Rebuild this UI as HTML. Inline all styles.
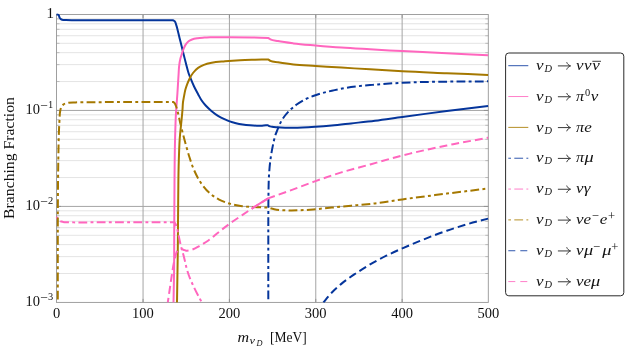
<!DOCTYPE html>
<html><head><meta charset="utf-8"><title>Branching fractions</title>
<style>html,body{margin:0;padding:0;background:#fff;}body{width:625px;height:349px;overflow:hidden;font-family:"Liberation Serif",serif;}svg{display:block;}text{font-family:"Liberation Serif",serif;fill:#111;}</style>
</head><body>
<svg width="625" height="349" viewBox="0 0 625 349" style="will-change:transform">
<rect x="0" y="0" width="625" height="349" fill="#ffffff"/>
<g stroke="#dfdfdf" stroke-width="0.85" fill="none"><line x1="56.50" y1="81.54" x2="488.30" y2="81.54"/><line x1="56.50" y1="64.64" x2="488.30" y2="64.64"/><line x1="56.50" y1="52.65" x2="488.30" y2="52.65"/><line x1="56.50" y1="43.34" x2="488.30" y2="43.34"/><line x1="56.50" y1="35.74" x2="488.30" y2="35.74"/><line x1="56.50" y1="29.32" x2="488.30" y2="29.32"/><line x1="56.50" y1="23.75" x2="488.30" y2="23.75"/><line x1="56.50" y1="18.84" x2="488.30" y2="18.84"/><line x1="56.50" y1="177.52" x2="488.30" y2="177.52"/><line x1="56.50" y1="160.62" x2="488.30" y2="160.62"/><line x1="56.50" y1="148.63" x2="488.30" y2="148.63"/><line x1="56.50" y1="139.33" x2="488.30" y2="139.33"/><line x1="56.50" y1="131.73" x2="488.30" y2="131.73"/><line x1="56.50" y1="125.30" x2="488.30" y2="125.30"/><line x1="56.50" y1="119.74" x2="488.30" y2="119.74"/><line x1="56.50" y1="114.83" x2="488.30" y2="114.83"/><line x1="56.50" y1="273.51" x2="488.30" y2="273.51"/><line x1="56.50" y1="256.60" x2="488.30" y2="256.60"/><line x1="56.50" y1="244.61" x2="488.30" y2="244.61"/><line x1="56.50" y1="235.31" x2="488.30" y2="235.31"/><line x1="56.50" y1="227.71" x2="488.30" y2="227.71"/><line x1="56.50" y1="221.28" x2="488.30" y2="221.28"/><line x1="56.50" y1="215.72" x2="488.30" y2="215.72"/><line x1="56.50" y1="210.81" x2="488.30" y2="210.81"/></g>
<g stroke="#b4b4b4" stroke-width="0.85" fill="none"><line x1="56.50" y1="81.54" x2="59.50" y2="81.54"/><line x1="485.30" y1="81.54" x2="488.30" y2="81.54"/><line x1="56.50" y1="64.64" x2="59.50" y2="64.64"/><line x1="485.30" y1="64.64" x2="488.30" y2="64.64"/><line x1="56.50" y1="52.65" x2="59.50" y2="52.65"/><line x1="485.30" y1="52.65" x2="488.30" y2="52.65"/><line x1="56.50" y1="43.34" x2="59.50" y2="43.34"/><line x1="485.30" y1="43.34" x2="488.30" y2="43.34"/><line x1="56.50" y1="35.74" x2="59.50" y2="35.74"/><line x1="485.30" y1="35.74" x2="488.30" y2="35.74"/><line x1="56.50" y1="29.32" x2="59.50" y2="29.32"/><line x1="485.30" y1="29.32" x2="488.30" y2="29.32"/><line x1="56.50" y1="23.75" x2="59.50" y2="23.75"/><line x1="485.30" y1="23.75" x2="488.30" y2="23.75"/><line x1="56.50" y1="18.84" x2="59.50" y2="18.84"/><line x1="485.30" y1="18.84" x2="488.30" y2="18.84"/><line x1="56.50" y1="177.52" x2="59.50" y2="177.52"/><line x1="485.30" y1="177.52" x2="488.30" y2="177.52"/><line x1="56.50" y1="160.62" x2="59.50" y2="160.62"/><line x1="485.30" y1="160.62" x2="488.30" y2="160.62"/><line x1="56.50" y1="148.63" x2="59.50" y2="148.63"/><line x1="485.30" y1="148.63" x2="488.30" y2="148.63"/><line x1="56.50" y1="139.33" x2="59.50" y2="139.33"/><line x1="485.30" y1="139.33" x2="488.30" y2="139.33"/><line x1="56.50" y1="131.73" x2="59.50" y2="131.73"/><line x1="485.30" y1="131.73" x2="488.30" y2="131.73"/><line x1="56.50" y1="125.30" x2="59.50" y2="125.30"/><line x1="485.30" y1="125.30" x2="488.30" y2="125.30"/><line x1="56.50" y1="119.74" x2="59.50" y2="119.74"/><line x1="485.30" y1="119.74" x2="488.30" y2="119.74"/><line x1="56.50" y1="114.83" x2="59.50" y2="114.83"/><line x1="485.30" y1="114.83" x2="488.30" y2="114.83"/><line x1="56.50" y1="273.51" x2="59.50" y2="273.51"/><line x1="485.30" y1="273.51" x2="488.30" y2="273.51"/><line x1="56.50" y1="256.60" x2="59.50" y2="256.60"/><line x1="485.30" y1="256.60" x2="488.30" y2="256.60"/><line x1="56.50" y1="244.61" x2="59.50" y2="244.61"/><line x1="485.30" y1="244.61" x2="488.30" y2="244.61"/><line x1="56.50" y1="235.31" x2="59.50" y2="235.31"/><line x1="485.30" y1="235.31" x2="488.30" y2="235.31"/><line x1="56.50" y1="227.71" x2="59.50" y2="227.71"/><line x1="485.30" y1="227.71" x2="488.30" y2="227.71"/><line x1="56.50" y1="221.28" x2="59.50" y2="221.28"/><line x1="485.30" y1="221.28" x2="488.30" y2="221.28"/><line x1="56.50" y1="215.72" x2="59.50" y2="215.72"/><line x1="485.30" y1="215.72" x2="488.30" y2="215.72"/><line x1="56.50" y1="210.81" x2="59.50" y2="210.81"/><line x1="485.30" y1="210.81" x2="488.30" y2="210.81"/></g>
<g stroke="#a4a4a4" stroke-width="1" fill="none"><line x1="56.50" y1="110.43" x2="488.30" y2="110.43"/><line x1="56.50" y1="206.42" x2="488.30" y2="206.42"/><line x1="143.06" y1="14.45" x2="143.06" y2="302.40"/><line x1="229.42" y1="14.45" x2="229.42" y2="302.40"/><line x1="315.78" y1="14.45" x2="315.78" y2="302.40"/><line x1="402.14" y1="14.45" x2="402.14" y2="302.40"/></g>
<g stroke="#8f8f8f" stroke-width="0.9" fill="none"><line x1="56.50" y1="110.43" x2="61.00" y2="110.43"/><line x1="483.80" y1="110.43" x2="488.30" y2="110.43"/><line x1="56.50" y1="206.42" x2="61.00" y2="206.42"/><line x1="483.80" y1="206.42" x2="488.30" y2="206.42"/><line x1="143.06" y1="298.90" x2="143.06" y2="302.40"/><line x1="143.06" y1="14.45" x2="143.06" y2="17.95"/><line x1="229.42" y1="298.90" x2="229.42" y2="302.40"/><line x1="229.42" y1="14.45" x2="229.42" y2="17.95"/><line x1="315.78" y1="298.90" x2="315.78" y2="302.40"/><line x1="315.78" y1="14.45" x2="315.78" y2="17.95"/><line x1="402.14" y1="298.90" x2="402.14" y2="302.40"/><line x1="402.14" y1="14.45" x2="402.14" y2="17.95"/></g>
<rect x="56.50" y="14.45" width="431.80" height="287.95" fill="none" stroke="#969696" stroke-width="0.9"/>
<clipPath id="pc"><rect x="55.70" y="13.25" width="433.40" height="289.55"/></clipPath>
<g clip-path="url(#pc)" fill="none" stroke-width="2.0" stroke-linejoin="round">
<path d="M56.50,14.60C57.10,14.63 57.81,14.35 58.30,14.70C58.66,14.95 58.80,15.41 59.00,15.80C59.28,16.36 59.31,17.04 59.60,17.60C59.82,18.03 60.05,18.47 60.40,18.80C60.71,19.10 61.11,19.32 61.50,19.50C62.12,19.79 62.82,19.85 63.50,19.95C64.33,20.07 65.17,20.06 66.00,20.10C69.00,20.25 72.00,20.18 75.00,20.20C80.00,20.24 85.00,20.24 90.00,20.25C103.33,20.29 116.67,20.29 130.00,20.30C144.40,20.31 158.80,20.30 173.20,20.30C173.70,20.60 174.27,20.81 174.70,21.20C175.69,22.09 175.76,23.64 176.20,24.90C176.78,26.57 177.15,28.29 177.60,30.00C178.31,32.72 178.92,35.47 179.60,38.20C180.29,40.97 181.01,43.73 181.70,46.50C182.27,48.80 182.83,51.10 183.40,53.40C184.22,56.70 185.04,60.01 185.90,63.30C186.77,66.61 187.49,69.96 188.60,73.20C189.26,75.13 190.03,77.01 190.80,78.90C191.87,81.53 192.98,84.14 194.20,86.70C195.41,89.24 196.76,91.72 198.10,94.20C199.21,96.25 200.20,98.37 201.50,100.30C202.81,102.25 204.31,104.07 205.90,105.80C207.69,107.74 209.67,109.51 211.70,111.20C213.59,112.77 215.52,114.29 217.60,115.60C219.95,117.08 222.48,118.24 225.00,119.40C226.55,120.11 228.10,120.82 229.70,121.40C231.75,122.14 233.88,122.69 236.00,123.20C238.18,123.73 240.39,124.15 242.60,124.50C245.05,124.89 247.53,125.15 250.00,125.35C252.26,125.53 254.53,125.66 256.80,125.70C258.53,125.73 260.27,125.72 262.00,125.65C263.97,125.57 265.93,125.35 267.90,125.20C268.33,125.50 268.73,125.86 269.20,126.10C270.05,126.54 271.06,126.57 272.00,126.75C273.78,127.08 275.60,127.15 277.40,127.30C279.93,127.51 282.46,127.62 285.00,127.70C287.80,127.79 290.60,127.81 293.40,127.80C300.77,127.77 308.14,127.28 315.50,126.80C320.94,126.45 326.37,126.01 331.80,125.50C338.21,124.90 344.60,124.11 351.00,123.40C359.00,122.51 367.01,121.70 375.00,120.70C384.12,119.56 393.20,118.14 402.30,116.90C417.12,114.89 431.96,112.96 446.80,111.10C460.56,109.37 474.33,107.77 488.10,106.10" stroke="#05359b"/>
<path d="M173.50,302.40C173.70,291.60 173.99,280.80 174.10,270.00C174.21,260.00 174.16,250.00 174.20,240.00C174.25,226.33 174.29,212.67 174.40,199.00C174.57,177.33 174.54,155.66 175.20,134.00C175.40,127.53 175.53,121.06 175.90,114.60C176.12,110.73 176.42,106.87 176.70,103.00C176.93,99.83 177.19,96.67 177.40,93.50C177.62,90.23 177.80,86.97 178.00,83.70C178.20,80.47 178.39,77.23 178.60,74.00C178.76,71.47 178.81,68.92 179.10,66.40C179.40,63.78 179.76,61.16 180.40,58.60C180.84,56.84 181.43,55.12 182.00,53.40C182.53,51.79 183.03,50.16 183.70,48.60C184.32,47.16 184.91,45.69 185.80,44.40C186.59,43.26 187.50,42.15 188.60,41.30C189.62,40.52 190.81,39.98 192.00,39.50C193.75,38.79 195.64,38.51 197.50,38.20C199.78,37.82 202.10,37.76 204.40,37.60C206.26,37.47 208.13,37.38 210.00,37.30C215.00,37.09 220.00,37.17 225.00,37.15C233.93,37.12 242.87,37.20 251.80,37.40C257.23,37.52 262.67,37.73 268.10,37.90C268.87,38.40 269.59,38.97 270.40,39.40C272.70,40.61 275.45,40.59 278.00,41.10C283.09,42.11 288.25,42.75 293.40,43.40C300.74,44.33 308.13,44.85 315.50,45.50C324.13,46.26 332.76,46.99 341.40,47.60C350.93,48.27 360.47,48.75 370.00,49.30C380.77,49.92 391.53,50.54 402.30,51.10C417.13,51.87 431.97,52.47 446.80,53.20C460.57,53.88 474.33,54.60 488.10,55.30" stroke="#ff66be"/>
<path d="M177.00,302.40C177.17,291.60 177.34,280.80 177.50,270.00C177.60,263.33 177.71,256.67 177.80,250.00C178.02,233.00 177.99,216.00 178.20,199.00C178.36,186.27 178.35,173.53 178.80,160.80C179.11,151.86 179.25,142.90 180.10,134.00C180.25,132.40 180.43,130.80 180.60,129.20C180.94,125.97 181.28,122.74 181.60,119.50C181.92,116.24 182.25,112.97 182.50,109.70C182.69,107.20 182.69,104.69 183.00,102.20C183.24,100.25 183.64,98.33 184.00,96.40C184.43,94.13 184.79,91.83 185.40,89.60C185.95,87.60 186.65,85.64 187.40,83.70C188.12,81.84 188.87,79.97 189.80,78.20C190.74,76.40 191.75,74.61 193.00,73.00C194.47,71.10 196.15,69.30 198.10,67.90C199.87,66.63 201.88,65.71 203.90,64.90C206.40,63.90 209.06,63.35 211.70,62.80C216.07,61.89 220.56,61.72 225.00,61.30C229.99,60.83 234.99,60.47 240.00,60.20C245.00,59.93 250.00,59.84 255.00,59.70C259.37,59.58 263.73,59.50 268.10,59.40C268.87,59.90 269.58,60.48 270.40,60.90C272.69,62.07 275.46,61.79 278.00,62.20C283.12,63.03 288.25,63.82 293.40,64.40C300.74,65.22 308.13,65.41 315.50,65.90C324.13,66.48 332.77,67.06 341.40,67.60C350.93,68.20 360.47,68.72 370.00,69.30C380.77,69.95 391.53,70.72 402.30,71.30C417.13,72.10 431.97,72.58 446.80,73.20C460.57,73.78 474.33,74.33 488.10,74.90" stroke="#a57800"/>
<path d="M268.30,302.40C268.30,284.93 268.28,267.47 268.30,250.00C268.32,234.00 268.25,218.00 268.40,202.00C268.43,198.87 268.45,195.73 268.50,192.60C268.60,186.83 268.64,181.06 269.00,175.30C269.32,170.19 269.73,165.08 270.40,160.00C270.91,156.12 271.56,152.25 272.30,148.40C272.76,145.99 273.25,143.59 273.80,141.20C274.24,139.29 274.60,137.36 275.20,135.50C275.73,133.86 276.44,132.29 277.10,130.70C278.58,127.12 279.88,123.41 281.90,120.10C283.79,117.00 286.09,114.13 288.60,111.50C290.95,109.04 293.56,106.81 296.30,104.80C299.31,102.59 302.54,100.65 305.90,99.00C308.99,97.48 312.25,96.34 315.50,95.20C320.82,93.34 326.31,91.99 331.80,90.70C338.14,89.21 344.56,88.04 351.00,87.10C357.30,86.18 363.66,85.69 370.00,85.10C380.75,84.10 391.52,83.32 402.30,82.75C417.12,81.97 431.96,81.88 446.80,81.65C460.57,81.43 474.33,81.45 488.10,81.35" stroke="#05359b" stroke-dasharray="8.8 3.3 2.9 3.3" stroke-dashoffset="15.2"/>
<path d="M56.50,216.70C57.00,217.57 57.35,218.54 58.00,219.30C58.62,220.02 59.36,220.66 60.20,221.10C61.06,221.55 62.05,221.71 63.00,221.90C64.80,222.27 66.67,222.11 68.50,222.20C78.99,222.69 89.50,222.28 100.00,222.30C124.77,222.36 149.53,222.30 174.30,222.30C174.60,222.67 174.93,223.01 175.20,223.40C175.88,224.38 176.20,225.57 176.60,226.70C177.26,228.58 177.56,230.56 178.00,232.50C178.54,234.86 178.99,237.24 179.50,239.60C179.96,241.70 180.37,243.81 180.90,245.90C181.49,248.25 182.27,250.56 182.90,252.90C183.57,255.39 184.19,257.89 184.80,260.40C185.50,263.26 186.00,266.17 186.80,269.00C187.75,272.33 188.92,275.59 190.20,278.80C191.38,281.75 192.74,284.63 194.10,287.50C195.35,290.13 196.65,292.73 198.00,295.30C199.26,297.69 200.60,300.03 201.90,302.40" stroke="#ff66be" stroke-dasharray="8.8 3.3 2.9 3.3" stroke-dashoffset="12.4"/>
<path d="M57.80,302.40C57.80,284.93 57.78,267.47 57.80,250.00C57.82,233.33 57.79,216.67 57.90,200.00C57.99,186.67 58.07,173.33 58.30,160.00C58.48,150.00 58.57,139.99 59.00,130.00C59.14,126.67 59.27,123.33 59.50,120.00C59.73,116.66 59.58,113.25 60.40,110.00C60.70,108.81 60.84,107.53 61.50,106.50C61.97,105.77 62.61,105.13 63.30,104.60C64.55,103.64 66.18,103.30 67.70,102.90C70.22,102.24 72.90,102.52 75.50,102.40C80.33,102.18 85.17,102.25 90.00,102.20C98.13,102.12 106.27,102.12 114.40,102.10C126.67,102.07 138.93,102.10 151.20,102.10" stroke="#a57800" stroke-dasharray="8.8 3.3 2.9 3.3" stroke-dashoffset="15.5"/>
<path d="M153.80,102.10L173.60,102.10C173.93,102.47 174.31,102.80 174.60,103.20C175.09,103.86 175.37,104.65 175.70,105.40C176.32,106.79 176.76,108.25 177.20,109.70C177.78,111.64 178.15,113.63 178.60,115.60C179.12,117.86 179.56,120.14 180.10,122.40C180.57,124.34 181.13,126.26 181.60,128.20C181.95,129.63 182.25,131.07 182.60,132.50C183.49,136.19 184.49,139.84 185.50,143.50C186.74,148.02 187.96,152.54 189.40,157.00C190.86,161.51 192.27,166.06 194.20,170.40C196.12,174.72 198.22,179.00 200.90,182.90C203.41,186.54 206.19,190.07 209.50,193.00C212.41,195.58 215.66,197.80 219.10,199.60C222.72,201.50 226.66,202.79 230.60,203.90C234.39,204.97 238.29,205.66 242.20,206.20C246.01,206.72 249.86,206.89 253.70,207.10C258.49,207.37 263.30,207.37 268.10,207.50C270.13,208.07 272.14,208.76 274.20,209.20C277.97,210.00 281.85,210.10 285.70,210.30C290.19,210.53 294.70,210.44 299.20,210.30C304.64,210.13 310.07,209.65 315.50,209.20C320.94,208.75 326.37,208.14 331.80,207.60C338.20,206.97 344.60,206.32 351.00,205.70C359.00,204.92 367.02,204.35 375.00,203.40C384.13,202.31 393.19,200.68 402.30,199.40C417.11,197.32 431.96,195.48 446.80,193.60C460.56,191.86 474.33,190.20 488.10,188.50" stroke="#a57800" stroke-dasharray="8.8 3.3 2.9 3.3"/>
<path d="M323.40,302.40C325.83,299.50 328.11,296.46 330.70,293.70C334.26,289.89 338.16,286.39 342.20,283.10C346.48,279.61 351.11,276.57 355.70,273.50C360.70,270.15 365.79,266.91 371.00,263.90C376.03,260.99 381.19,258.28 386.40,255.70C391.46,253.19 396.63,250.89 401.80,248.60C407.82,245.93 413.90,243.38 420.00,240.90C428.86,237.31 437.76,233.80 446.80,230.70C453.15,228.52 459.56,226.51 466.00,224.60C473.32,222.43 480.73,220.60 488.10,218.60" stroke="#05359b" stroke-dasharray="7.9 4.1"/>
<path d="M167.80,302.40C168.43,298.10 169.07,293.80 169.70,289.50C170.37,284.93 170.99,280.36 171.70,275.80C172.03,273.70 172.35,271.60 172.70,269.50C172.99,267.76 173.27,266.03 173.60,264.30C174.04,262.02 174.53,259.75 175.10,257.50C175.55,255.72 175.79,253.85 176.60,252.20C177.00,251.40 177.29,250.45 178.00,249.90C178.67,249.38 179.56,249.17 180.40,249.10C181.42,249.01 182.42,249.43 183.40,249.70C184.39,249.97 185.29,250.57 186.30,250.70C187.26,250.82 188.24,250.66 189.20,250.50C190.54,250.28 191.83,249.79 193.10,249.30C195.13,248.52 197.00,247.36 198.90,246.30C200.56,245.38 202.19,244.40 203.80,243.40C205.46,242.37 207.10,241.32 208.70,240.20C212.35,237.65 215.60,234.56 219.10,231.80C222.89,228.81 226.69,225.82 230.60,223.00C234.39,220.26 238.32,217.72 242.20,215.10C246.02,212.52 249.83,209.91 253.70,207.40C258.45,204.32 263.30,201.40 268.10,198.40" stroke="#ff66be" stroke-dasharray="7.9 4.1" stroke-dashoffset="3.3"/>
<path d="M251.60,208.80C252.30,208.33 253.00,207.86 253.70,207.40C258.42,204.28 263.30,201.40 268.10,198.40" stroke="#ff66be"/>
<path d="M268.10,198.40C275.27,195.83 282.45,193.30 289.60,190.70C298.25,187.55 306.82,184.17 315.50,181.10C324.09,178.07 332.69,175.07 341.40,172.40C350.85,169.50 360.47,167.14 370.00,164.50C380.77,161.51 391.47,158.27 402.30,155.50C417.03,151.73 431.91,148.57 446.80,145.50C460.52,142.67 474.33,140.30 488.10,137.70" stroke="#ff66be" stroke-dasharray="7.9 4.1" stroke-dashoffset="0.8"/>
</g>
<text x="56.60" y="317.9" font-size="14.5" text-anchor="middle">0</text>
<text x="142.96" y="317.9" font-size="14.5" text-anchor="middle">100</text>
<text x="229.32" y="317.9" font-size="14.5" text-anchor="middle">200</text>
<text x="315.68" y="317.9" font-size="14.5" text-anchor="middle">300</text>
<text x="402.04" y="317.9" font-size="14.5" text-anchor="middle">400</text>
<text x="488.40" y="317.9" font-size="14.5" text-anchor="middle">500</text>
<text x="53.9" y="18.25" font-size="15" text-anchor="end">1</text>
<text x="25.4" y="114.43" font-size="14.5">10</text>
<text transform="translate(40.1,109.83) scale(1.08,1)" font-size="12.6">−</text>
<text x="47.9" y="108.13" font-size="10.4">1</text>
<text x="25.4" y="210.42" font-size="14.5">10</text>
<text transform="translate(40.1,205.82) scale(1.08,1)" font-size="12.6">−</text>
<text x="47.9" y="204.12" font-size="10.4">2</text>
<text x="25.4" y="306.40" font-size="14.5">10</text>
<text transform="translate(40.1,301.80) scale(1.08,1)" font-size="12.6">−</text>
<text x="47.9" y="300.10" font-size="10.4">3</text>
<text transform="translate(13.8,218.9) rotate(-90)" font-size="15" textLength="121.8" lengthAdjust="spacingAndGlyphs">Branching Fraction</text>
<text x="237.6" y="341.7" font-size="15.5" font-style="italic" textLength="11.6" lengthAdjust="spacingAndGlyphs">m</text>
<text transform="translate(249.6,344.4) scale(1.12,1)" font-size="11" font-style="italic">ν</text>
<text x="256.6" y="346.1" font-size="8.3" font-style="italic">D</text>
<text x="270.0" y="341.9" font-size="15" textLength="36.8" lengthAdjust="spacingAndGlyphs">[MeV]</text>
<rect x="505.60" y="53.00" width="118.20" height="242.80" rx="3.2" ry="3.2" fill="#ffffff" stroke="#2a2a2a" stroke-width="1"/>
<line x1="508.3" y1="65.70" x2="528.3" y2="65.70" stroke="#2f57ad" stroke-width="1.0"/>
<text transform="translate(536.10,69.70) scale(1.090,1)" font-size="15.50" font-style="italic" fill="#1c1c1c">ν</text>
<text transform="translate(544.50,71.70) scale(1.050,1)" font-size="9.90" font-style="italic" fill="#1c1c1c">D</text>
<path d="M557.9,65.90 H570.2 M566.7,62.20 C567.3,64.00 568.6,65.20 570.6,65.90 C568.6,66.60 567.3,67.80 566.7,69.60" fill="none" stroke="#3a3a3a" stroke-width="1.0"/>
<text transform="translate(575.90,69.70) scale(1.090,1)" font-size="15.50" font-style="italic" fill="#1c1c1c">ν</text>
<text transform="translate(584.00,69.70) scale(1.090,1)" font-size="15.50" font-style="italic" fill="#1c1c1c">ν</text>
<text transform="translate(592.20,69.70) scale(1.090,1)" font-size="15.50" font-style="italic" fill="#1c1c1c">ν</text>
<line x1="592.3" y1="61.30" x2="601.0" y2="61.30" stroke="#1c1c1c" stroke-width="0.85"/>
<line x1="508.3" y1="96.54" x2="528.3" y2="96.54" stroke="#ff7fc9" stroke-width="1.0"/>
<text transform="translate(536.10,100.61) scale(1.090,1)" font-size="15.50" font-style="italic" fill="#1c1c1c">ν</text>
<text transform="translate(544.50,102.61) scale(1.050,1)" font-size="9.90" font-style="italic" fill="#1c1c1c">D</text>
<path d="M557.9,96.74 H570.2 M566.7,93.04 C567.3,94.84 568.6,96.04 570.6,96.74 C568.6,97.44 567.3,98.64 566.7,100.44" fill="none" stroke="#3a3a3a" stroke-width="1.0"/>
<text transform="translate(576.10,100.61) scale(1.050,1)" font-size="15.50" font-style="italic" fill="#1c1c1c">π</text>
<text transform="translate(585.10,95.71) scale(1.000,1)" font-size="10.40" fill="#1c1c1c">0</text>
<text transform="translate(590.80,100.61) scale(1.090,1)" font-size="15.50" font-style="italic" fill="#1c1c1c">ν</text>
<line x1="508.3" y1="127.38" x2="528.3" y2="127.38" stroke="#b58f26" stroke-width="1.0"/>
<text transform="translate(536.10,131.52) scale(1.090,1)" font-size="15.50" font-style="italic" fill="#1c1c1c">ν</text>
<text transform="translate(544.50,133.52) scale(1.050,1)" font-size="9.90" font-style="italic" fill="#1c1c1c">D</text>
<path d="M557.9,127.58 H570.2 M566.7,123.88 C567.3,125.68 568.6,126.88 570.6,127.58 C568.6,128.28 567.3,129.48 566.7,131.28" fill="none" stroke="#3a3a3a" stroke-width="1.0"/>
<text transform="translate(576.10,131.52) scale(1.050,1)" font-size="15.50" font-style="italic" fill="#1c1c1c">π</text>
<text transform="translate(584.30,131.52) scale(1.100,1)" font-size="15.50" font-style="italic" fill="#1c1c1c">e</text>
<line x1="508.3" y1="158.22" x2="528.3" y2="158.22" stroke="#2f57ad" stroke-width="1.0" stroke-dasharray="2.7 3.3 8.8 3.3"/>
<text transform="translate(536.10,162.43) scale(1.090,1)" font-size="15.50" font-style="italic" fill="#1c1c1c">ν</text>
<text transform="translate(544.50,164.43) scale(1.050,1)" font-size="9.90" font-style="italic" fill="#1c1c1c">D</text>
<path d="M557.9,158.42 H570.2 M566.7,154.72 C567.3,156.52 568.6,157.72 570.6,158.42 C568.6,159.12 567.3,160.32 566.7,162.12" fill="none" stroke="#3a3a3a" stroke-width="1.0"/>
<text transform="translate(576.10,162.43) scale(1.050,1)" font-size="15.50" font-style="italic" fill="#1c1c1c">π</text>
<text transform="translate(584.60,162.43) scale(1.180,1)" font-size="15.50" font-style="italic" fill="#1c1c1c">μ</text>
<line x1="508.3" y1="189.06" x2="528.3" y2="189.06" stroke="#ff7fc9" stroke-width="1.0" stroke-dasharray="2.7 3.3 8.8 3.3"/>
<text transform="translate(536.10,193.34) scale(1.090,1)" font-size="15.50" font-style="italic" fill="#1c1c1c">ν</text>
<text transform="translate(544.50,195.34) scale(1.050,1)" font-size="9.90" font-style="italic" fill="#1c1c1c">D</text>
<path d="M557.9,189.26 H570.2 M566.7,185.56 C567.3,187.36 568.6,188.56 570.6,189.26 C568.6,189.96 567.3,191.16 566.7,192.96" fill="none" stroke="#3a3a3a" stroke-width="1.0"/>
<text transform="translate(575.90,193.34) scale(1.090,1)" font-size="15.50" font-style="italic" fill="#1c1c1c">ν</text>
<text transform="translate(583.70,193.34) scale(1.100,1)" font-size="15.50" font-style="italic" fill="#1c1c1c">γ</text>
<line x1="508.3" y1="219.90" x2="528.3" y2="219.90" stroke="#b58f26" stroke-width="1.0" stroke-dasharray="2.7 3.3 8.8 3.3"/>
<text transform="translate(536.10,224.25) scale(1.090,1)" font-size="15.50" font-style="italic" fill="#1c1c1c">ν</text>
<text transform="translate(544.50,226.25) scale(1.050,1)" font-size="9.90" font-style="italic" fill="#1c1c1c">D</text>
<path d="M557.9,220.10 H570.2 M566.7,216.40 C567.3,218.20 568.6,219.40 570.6,220.10 C568.6,220.80 567.3,222.00 566.7,223.80" fill="none" stroke="#3a3a3a" stroke-width="1.0"/>
<text transform="translate(575.90,224.25) scale(1.090,1)" font-size="15.50" font-style="italic" fill="#1c1c1c">ν</text>
<text transform="translate(583.60,224.25) scale(1.100,1)" font-size="15.50" font-style="italic" fill="#1c1c1c">e</text>
<text transform="translate(591.80,219.85) scale(1.000,1)" font-size="12.60" fill="#1c1c1c">−</text>
<text transform="translate(599.70,224.25) scale(1.100,1)" font-size="15.50" font-style="italic" fill="#1c1c1c">e</text>
<text transform="translate(608.00,219.85) scale(1.000,1)" font-size="12.60" fill="#1c1c1c">+</text>
<line x1="508.3" y1="250.74" x2="528.3" y2="250.74" stroke="#2f57ad" stroke-width="1.0" stroke-dasharray="7 5"/>
<text transform="translate(536.10,255.16) scale(1.090,1)" font-size="15.50" font-style="italic" fill="#1c1c1c">ν</text>
<text transform="translate(544.50,257.16) scale(1.050,1)" font-size="9.90" font-style="italic" fill="#1c1c1c">D</text>
<path d="M557.9,250.94 H570.2 M566.7,247.24 C567.3,249.04 568.6,250.24 570.6,250.94 C568.6,251.64 567.3,252.84 566.7,254.64" fill="none" stroke="#3a3a3a" stroke-width="1.0"/>
<text transform="translate(575.90,255.16) scale(1.090,1)" font-size="15.50" font-style="italic" fill="#1c1c1c">ν</text>
<text transform="translate(583.90,255.16) scale(1.180,1)" font-size="15.50" font-style="italic" fill="#1c1c1c">μ</text>
<text transform="translate(593.00,250.76) scale(1.000,1)" font-size="12.60" fill="#1c1c1c">−</text>
<text transform="translate(602.30,255.16) scale(1.180,1)" font-size="15.50" font-style="italic" fill="#1c1c1c">μ</text>
<text transform="translate(611.20,250.76) scale(1.000,1)" font-size="12.60" fill="#1c1c1c">+</text>
<line x1="508.3" y1="281.58" x2="528.3" y2="281.58" stroke="#ff7fc9" stroke-width="1.0" stroke-dasharray="7 5"/>
<text transform="translate(536.10,286.07) scale(1.090,1)" font-size="15.50" font-style="italic" fill="#1c1c1c">ν</text>
<text transform="translate(544.50,288.07) scale(1.050,1)" font-size="9.90" font-style="italic" fill="#1c1c1c">D</text>
<path d="M557.9,281.78 H570.2 M566.7,278.08 C567.3,279.88 568.6,281.08 570.6,281.78 C568.6,282.48 567.3,283.68 566.7,285.48" fill="none" stroke="#3a3a3a" stroke-width="1.0"/>
<text transform="translate(575.90,286.07) scale(1.090,1)" font-size="15.50" font-style="italic" fill="#1c1c1c">ν</text>
<text transform="translate(583.60,286.07) scale(1.100,1)" font-size="15.50" font-style="italic" fill="#1c1c1c">e</text>
<text transform="translate(591.00,286.07) scale(1.180,1)" font-size="15.50" font-style="italic" fill="#1c1c1c">μ</text>
</svg>
</body></html>
